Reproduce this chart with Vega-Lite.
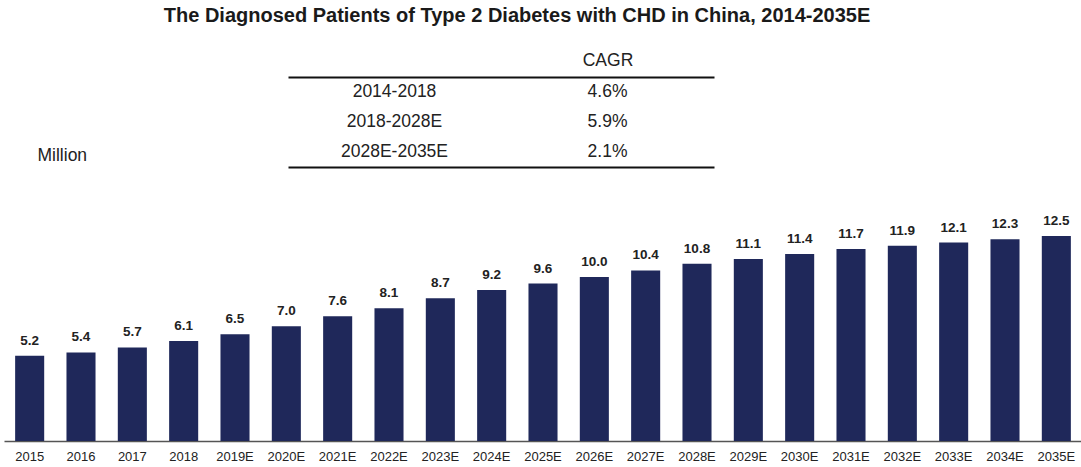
{
  "$schema": "https://vega.github.io/schema/vega-lite/v6.json",
  "padding": {"left": 4, "top": 6, "right": 0, "bottom": 0},
  "config": {"font": "Liberation Sans", "view": {"stroke": null}, "concat": {"spacing": 24}},
  "title": {"text": "The Diagnosed Patients of Type 2 Diabetes with CHD in China, 2014-2035E", "fontSize": 20, "fontWeight": "bold", "color": "#1a1a1a", "anchor": "middle", "dx": -26, "offset": 25},
  "datasets": {
    "bars": [
      {"year": "2015", "value": 5.2}, {"year": "2016", "value": 5.4}, {"year": "2017", "value": 5.7},
      {"year": "2018", "value": 6.1}, {"year": "2019E", "value": 6.5}, {"year": "2020E", "value": 7.0},
      {"year": "2021E", "value": 7.6}, {"year": "2022E", "value": 8.1}, {"year": "2023E", "value": 8.7},
      {"year": "2024E", "value": 9.2}, {"year": "2025E", "value": 9.6}, {"year": "2026E", "value": 10.0},
      {"year": "2027E", "value": 10.4}, {"year": "2028E", "value": 10.8}, {"year": "2029E", "value": 11.1},
      {"year": "2030E", "value": 11.4}, {"year": "2031E", "value": 11.7}, {"year": "2032E", "value": 11.9},
      {"year": "2033E", "value": 12.1}, {"year": "2034E", "value": 12.3}, {"year": "2035E", "value": 12.5}
    ],
    "table": [
      {"row": "2014-2018", "col": "Period", "text": "2014-2018"},
      {"row": "2014-2018", "col": "CAGR", "text": "4.6%"},
      {"row": "2018-2028E", "col": "Period", "text": "2018-2028E"},
      {"row": "2018-2028E", "col": "CAGR", "text": "5.9%"},
      {"row": "2028E-2035E", "col": "Period", "text": "2028E-2035E"},
      {"row": "2028E-2035E", "col": "CAGR", "text": "2.1%"}
    ]
  },
  "vconcat": [
    {
      "width": 1078,
      "height": 90,
      "data": {"name": "table"},
      "layer": [
        {
          "mark": {"type": "text", "fontSize": 17.5, "color": "#222222"},
          "encoding": {
            "x": {"field": "col", "type": "nominal", "sort": ["Period", "CAGR"],
              "scale": {"type": "point", "range": [284, 710], "padding": 0.5},
              "axis": {"orient": "top", "title": null, "ticks": false, "labelAngle": 0,
                "labelExpr": "datum.value == 'CAGR' ? 'CAGR' : ''", "labelFontSize": 17.5, "labelColor": "#222222",
                "labelPadding": 8, "domainColor": "#111111", "domainWidth": 2}},
            "y": {"field": "row", "type": "nominal", "sort": ["2014-2018", "2018-2028E", "2028E-2035E"],
              "axis": {"title": "Million", "labels": false, "ticks": false, "domain": false, "grid": false,
                "titleAngle": 0, "titleAlign": "left", "titleBaseline": "middle", "titleX": 33, "titleY": 78,
                "titleFontWeight": "normal", "titleFontSize": 17.5, "titleColor": "#222222"}},
            "text": {"field": "text"}
          }
        },
        {
          "mark": {"type": "text", "opacity": 0},
          "encoding": {
            "x": {"field": "col", "type": "nominal", "sort": ["Period", "CAGR"],
              "axis": {"orient": "bottom", "title": null, "labels": false, "ticks": false,
                "domainColor": "#111111", "domainWidth": 2}},
            "text": {"field": "text"}
          }
        }
      ],
      "resolve": {"axis": {"x": "independent"}}
    },
    {
      "width": 1078,
      "height": 250,
      "data": {"name": "bars"},
      "encoding": {
        "x": {"field": "year", "type": "nominal", "sort": null,
          "scale": {"paddingInner": 0.434, "paddingOuter": 0.217},
          "axis": {"title": null, "labelAngle": 0, "ticks": false, "labelPadding": 9, "labelFontSize": 13,
            "labelColor": "#222222", "domainColor": "#555555", "domainWidth": 1.5}},
        "y": {"field": "value", "type": "quantitative", "scale": {"domain": [0, 15.24]}, "axis": null}
      },
      "layer": [
        {"mark": {"type": "bar", "color": "#1f285a"}},
        {"mark": {"type": "text", "fontWeight": "bold", "fontSize": 13.5, "dy": -11, "baseline": "alphabetic", "color": "#222222"},
          "encoding": {"text": {"field": "value", "type": "quantitative", "format": ".1f"}}}
      ]
    }
  ]
}
